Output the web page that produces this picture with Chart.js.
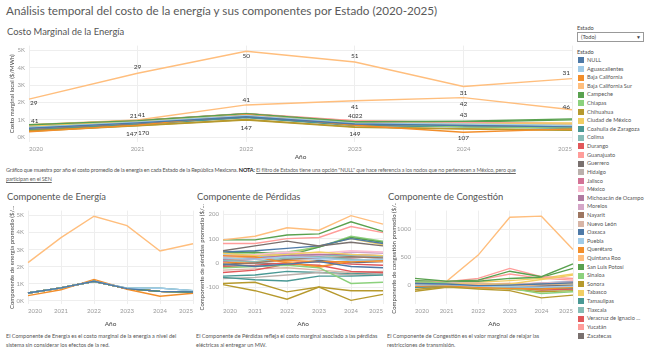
<!DOCTYPE html>
<html lang="es">
<head>
<meta charset="utf-8">
<script src="https://cdn.jsdelivr.net/npm/chart.js@4.4.1/dist/chart.umd.min.js"></script>
<style>
  body { margin: 0; width: 647px; height: 352px; background: #fff; position: relative; overflow: hidden; font-family: Lato, "Open Sans", sans-serif; color: #555; }
  .abs { position: absolute; white-space: nowrap; }
  canvas { position: absolute; }
  .titulo { left: 6px; top: 3px; font-size: 11.7px; color: #5a5a5a; }
  .sub { font-size: 9.4px; color: #555; }
  .desc { font-size: 5.5px; color: #555; line-height: 8.5px; }
  .desc b { color: #222; }
  .desc u { color: #666; }
  #leyenda { left: 578px; top: 56px; font-size: 5.6px; color: #555; }
  #leyenda div { height: 8.62px; line-height: 8.62px; position: relative; padding-left: 9px; }
  #leyenda span { position: absolute; left: 0; top: 1.3px; width: 6px; height: 6px; }
  .combo { left: 577px; top: 32px; width: 62px; height: 8px; border: 1px solid #999; font-size: 5.6px; line-height: 8px; padding-left: 3px; color: #444; }
</style>
</head>
<body>
<div class="abs titulo">Análisis temporal del costo de la energía y sus componentes por Estado (2020-2025)</div>
<div class="abs sub" style="left:7px; top:26px;">Costo Marginal de la Energía</div>
<canvas id="g_costo" width="575" height="125" style="left:0; top:38px;"></canvas>
<div class="abs desc" style="left:6px; top:166px; letter-spacing:-0.15px;">Gráfico que muestra por año el costo promedio de la energía en cada Estado de la República Mexicana. <b>NOTA:</b> <u>El filtro de Estados tiene una opción "NULL" que hace referencia a los nodos que no pertenecen a México, pero que</u><br><u>participan en el SEN</u></div>

<div class="abs sub" style="left:7px; top:191px;">Componente de Energía</div>
<div class="abs sub" style="left:197px; top:191px;">Componente de Pérdidas</div>
<div class="abs sub" style="left:388px; top:191px;">Componente de Congestión</div>
<canvas id="g_energia" width="196" height="127" style="left:0; top:203px;"></canvas>
<canvas id="g_perdidas" width="196" height="127" style="left:190px; top:203px;"></canvas>
<canvas id="g_congestion" width="194" height="127" style="left:382px; top:203px;"></canvas>
<div class="abs desc" style="left:6px; top:332px;">El Componente de Energía es el costo marginal de la energía a nivel del<br>sistema sin considerar los efectos de la red.</div>
<div class="abs desc" style="left:196px; top:332px;">El Componente de Pérdidas refleja el costo marginal asociado a las pérdidas<br>eléctricas al entregar un MW.</div>
<div class="abs desc" style="left:387px; top:332px;">El Componente de Congestión es el valor marginal de relajar las<br>restricciones de transmisión.</div>

<div class="abs" style="left:577px; top:24px; font-size:5.6px; color:#444;">Estado</div>
<div class="abs combo">(Todo)<span style="position:absolute; right:2px; top:0; font-size:5px;">▼</span></div>
<div class="abs" style="left:577px; top:48px; font-size:5.6px; color:#444;">Estado</div>
<div class="abs" id="leyenda"></div>

<script>
const anios = ["2020", "2021", "2022", "2023", "2024", "2025"];

const estados = [
  "NULL", "Aguascalientes", "Baja California", "Baja California Sur", "Campeche",
  "Chiapas", "Chihuahua", "Ciudad de México", "Coahuila de Zaragoza", "Colima",
  "Durango", "Guanajuato", "Guerrero", "Hidalgo", "Jalisco", "México",
  "Michoacán de Ocampo", "Morelos", "Nayarit", "Nuevo León", "Oaxaca", "Puebla",
  "Querétaro", "Quintana Roo", "San Luis Potosí", "Sinaloa", "Sonora", "Tabasco",
  "Tamaulipas", "Tlaxcala", "Veracruz de Ignacio ...", "Yucatán", "Zacatecas"
];

// costo marginal local promedio ($/MWh), una fila por estado
const costoMarginal = [
  [520, 830, 1180, 760, 680, 600],
  [560, 860, 1260, 800, 760, 680],
  [320, 700, 1300, 690, 290, 480],
  [2190, 3680, 4950, 4330, 2920, 3370],
  [720, 960, 1360, 900, 920, 1060],
  [560, 850, 1250, 820, 600, 560],
  [380, 680, 1020, 600, 500, 420],
  [640, 900, 1290, 810, 780, 760],
  [420, 740, 1130, 680, 600, 520],
  [550, 840, 1230, 820, 780, 660],
  [440, 760, 1160, 700, 620, 540],
  [650, 950, 1340, 940, 850, 760],
  [620, 910, 1300, 830, 740, 660],
  [560, 860, 1240, 790, 720, 640],
  [600, 880, 1280, 810, 760, 670],
  [610, 890, 1290, 820, 770, 690],
  [580, 870, 1260, 800, 740, 650],
  [600, 890, 1280, 820, 770, 690],
  [540, 830, 1230, 780, 720, 630],
  [480, 790, 1170, 730, 660, 580],
  [500, 810, 1180, 760, 700, 620],
  [570, 870, 1250, 800, 760, 660],
  [590, 880, 1270, 800, 740, 650],
  [720, 990, 1860, 2100, 2280, 1580],
  [700, 970, 1350, 880, 880, 1000],
  [600, 880, 1250, 780, 680, 600],
  [350, 660, 990, 580, 470, 400],
  [640, 900, 1280, 850, 820, 820],
  [460, 770, 1150, 720, 650, 560],
  [560, 860, 1250, 800, 760, 660],
  [520, 820, 1220, 780, 700, 610],
  [710, 970, 1370, 950, 860, 790],
  [540, 840, 1220, 770, 700, 620]
];

// componente de energía promedio ($/MWh)
const compEnergia = [
  [460, 760, 1150, 720, 560, 520],
  [460, 760, 1150, 740, 750, 600],
  [310, 650, 1260, 680, 270, 450],
  [2240, 3700, 4950, 4400, 2920, 3340],
  [460, 760, 1150, 720, 560, 520],
  [460, 760, 1150, 720, 560, 520],
  [460, 760, 1150, 720, 560, 520],
  [460, 760, 1150, 720, 560, 520],
  [460, 760, 1150, 720, 560, 520],
  [460, 760, 1150, 740, 750, 600],
  [460, 760, 1150, 720, 560, 520],
  [460, 760, 1150, 720, 560, 520],
  [460, 760, 1150, 720, 560, 520],
  [460, 760, 1150, 720, 560, 520],
  [460, 760, 1150, 720, 560, 520],
  [460, 760, 1150, 720, 560, 520],
  [460, 760, 1150, 720, 560, 520],
  [460, 760, 1150, 720, 560, 520],
  [460, 760, 1150, 720, 560, 520],
  [460, 760, 1150, 720, 560, 520],
  [460, 760, 1150, 720, 560, 520],
  [460, 760, 1150, 740, 750, 600],
  [460, 760, 1150, 720, 560, 520],
  [460, 760, 1150, 720, 560, 520],
  [460, 760, 1150, 720, 560, 520],
  [460, 760, 1150, 720, 560, 520],
  [460, 760, 1150, 720, 560, 520],
  [460, 760, 1150, 720, 560, 520],
  [460, 760, 1150, 720, 560, 520],
  [460, 760, 1150, 740, 750, 600],
  [460, 760, 1150, 720, 560, 520],
  [460, 760, 1150, 720, 560, 520],
  [460, 760, 1150, 720, 560, 520]
];

// componente de pérdidas promedio ($/MWh)
const compPerdidas = [
  [-5, -15, -5, 5, -15, -20],
  [20, 15, 25, 20, 10, 15],
  [30, 25, 0, -15, 5, 10],
  [95, 110, 145, 135, 195, 160],
  [95, 95, 115, 120, 170, 130],
  [-20, -15, -10, -20, -85, -80],
  [-90, -115, -150, -100, -155, -130],
  [40, 30, 35, 45, 35, 30],
  [-60, -70, -75, -55, -55, -50],
  [10, 5, 20, 25, 15, 10],
  [-40, -30, -5, -10, -35, -40],
  [80, 80, 100, 105, 150, 125],
  [50, 70, 90, 70, 85, 70],
  [-65, -60, -50, -40, -50, -45],
  [5, 15, 25, 20, 15, 10],
  [30, 35, 45, 40, 50, 45],
  [15, 20, 30, 35, 35, 30],
  [25, 30, 40, 30, 45, 40],
  [-10, 0, 15, 20, 25, 20],
  [-30, -25, -20, -30, -40, -35],
  [45, 50, 60, 70, 100, 80],
  [35, 30, 20, 15, 25, 20],
  [0, 5, 10, 5, 5, 10],
  [20, 25, 5, -20, 10, 5],
  [40, 45, 30, 65, 105, 85],
  [45, 40, 45, 65, 110, 90],
  [-85, -80, -120, -100, -115, -115],
  [10, 20, 35, 70, 100, 75],
  [-55, -50, -35, -40, -45, -40],
  [20, 25, 35, 30, 30, 25],
  [-15, -10, 0, 5, -5, -10],
  [25, 20, 30, 25, 20, 30],
  [-5, 0, -5, 10, 0, 5]
];

// componente de congestión promedio ($/MWh)
const compCongestion = [
  [30, 20, -10, 0, 20, 40],
  [0, 10, -20, -30, -40, -20],
  [-20, -10, -40, -60, -70, -40],
  [10, 20, 10, -20, 10, 30],
  [120, 70, 90, 250, 150, 380],
  [60, 40, -30, -60, -150, -120],
  [-80, -30, -70, -100, -230, -180],
  [20, 30, 10, 20, 100, 180],
  [-40, -20, -30, -50, -60, -50],
  [0, 10, 0, -10, 10, 20],
  [-30, -10, -20, -40, -90, -70],
  [40, 60, 120, 300, 150, 120],
  [10, 20, 0, -10, -20, 0],
  [20, 30, 20, 10, 30, 40],
  [-10, 0, 10, 20, 0, 10],
  [30, 40, 30, 20, 40, 50],
  [-20, -10, 0, -10, -30, -20],
  [10, 20, 30, 10, 20, 30],
  [-30, -20, -10, -20, -40, -30],
  [-50, -30, -40, -60, -70, -60],
  [50, 30, 20, 0, 40, 60],
  [10, 0, -10, 0, 20, 30],
  [0, 10, 20, 30, 10, 20],
  [20, 70, 540, 1220, 1240, 640],
  [80, 60, 70, 120, 140, 300],
  [-40, -20, -30, -60, -90, -80],
  [-110, -40, -50, -70, -120, -100],
  [60, 40, 50, 80, 120, 200],
  [-20, -10, -20, -40, -50, -40],
  [0, 10, 0, -10, 0, 10],
  [20, 10, 0, -20, -30, -20],
  [70, 60, 90, 200, 120, 90],
  [-10, 0, -10, -20, -10, 0]
];

// etiquetas de marca en la gráfica principal: [estado, índice de año, texto]
const etiquetas = [
  ["Baja California Sur", 0, "29"], ["Baja California Sur", 1, "29"], ["Baja California Sur", 2, "50"],
  ["Baja California Sur", 3, "51"], ["Baja California Sur", 4, "31"], ["Baja California Sur", 5, "31"],
  ["Quintana Roo", 0, "41"], ["Quintana Roo", 1, "41"], ["Quintana Roo", 2, "41"],
  ["Quintana Roo", 3, "41"], ["Quintana Roo", 4, "42"], ["Quintana Roo", 5, "46"],
  ["Campeche", 1, "21"], ["Campeche", 3, "40"], ["San Luis Potosí", 3, "22"], ["Campeche", 4, "43"],
  ["Sonora", 1, "147"], ["Chihuahua", 1, "170"], ["Sonora", 2, "147"], ["Sonora", 3, "149"],
  ["Baja California", 4, "107"]
];

const ticksCosto = [0, 1000, 2000, 3000, 4000, 5000];
const ticksPerdidas = [-100, 0, 100, 200];
const ticksCongestion = [0, 500, 1000];

const colores = ["#4e79a7", "#a0cbe8", "#f28e2b", "#ffbe7d", "#59a14f", "#8cd17d", "#b6992d", "#f1ce63",
  "#499894", "#86bcb6", "#e15759", "#ff9d9a", "#79706e", "#bab0ac", "#d37295", "#fabfd2",
  "#b07aa1", "#d4a6c8", "#9d7660", "#d7b5a6"];
const colorDe = i => colores[i % colores.length];

// leyenda
const ley = document.getElementById("leyenda");
estados.forEach((e, i) => {
  const d = document.createElement("div");
  d.innerHTML = '<span style="background:' + colorDe(i) + '"></span>' + e;
  ley.appendChild(d);
});

Chart.defaults.font.family = "Lato, 'Open Sans', sans-serif";
Chart.defaults.animation = false;

// desplazamientos de cada etiqueta [dx, dy]
const ajustes = [
  [1, 4], [0, -6], [0, 5], [0, -6], [0, 6], [-2, -6],
  [2, -4], [4, -5], [0, -5], [0, 6], [0, 6], [-2, -3],
  [-4, -5], [-3, -6], [4, -6], [0, -6],
  [-6, 8], [6, 7], [0, 8], [0, 7], [0, 6]
];

const pluginEtiquetas = {
  id: "etiquetas",
  afterDatasetsDraw(chart) {
    const { ctx, scales: { x, y } } = chart;
    ctx.save();
    ctx.font = "6.5px Lato";
    ctx.fillStyle = "#333";
    ctx.textBaseline = "middle";
    etiquetas.forEach(([estado, i, texto], k) => {
      const fila = costoMarginal[estados.indexOf(estado)];
      const [dx, dy] = ajustes[k];
      ctx.textAlign = i === 0 ? "left" : (i === anios.length - 1 ? "right" : "center");
      ctx.fillText(texto, x.getPixelForValue(i) + dx, y.getPixelForValue(fila[i]) + dy);
    });
    ctx.restore();
  }
};

function grafica(id, filas, cfg) {
  return new Chart(document.getElementById(id), {
    type: "line",
    data: {
      labels: anios,
      datasets: filas.map((fila, i) => ({
        label: estados[i],
        data: fila,
        borderColor: colorDe(i),
        backgroundColor: colorDe(i),
        borderWidth: 1.4,
        pointRadius: 0,
        tension: 0,
        fill: false,
      })),
    },
    options: {
      responsive: false,
      devicePixelRatio: 1,
      layout: { padding: { top: 2, right: 3, left: 0, bottom: 0 } },
      plugins: { legend: { display: false }, tooltip: { enabled: false } },
      scales: {
        x: {
          offset: false,
          grid: { color: "#eeeeee", drawTicks: false },
          border: { display: false },
          ticks: { font: { size: 6 }, color: "#999", maxRotation: 0, autoSkip: false, align: "inner", padding: 3 },
          title: { display: true, text: "Año", font: { size: 6.5 }, color: "#444", padding: { top: 0, bottom: 2 } },
          afterFit: s => { s.height = cfg.altoX; },
        },
        y: {
          min: cfg.min,
          max: cfg.max,
          grid: { color: "#eeeeee", drawTicks: false },
          border: { display: false },
          afterBuildTicks: s => { s.ticks = cfg.ticks.map(v => ({ value: v })); },
          ticks: { font: { size: 6 }, color: "#999", padding: 4, callback: cfg.fmt },
          title: { display: true, text: cfg.tituloY, font: { size: 6 }, color: "#444", padding: { top: 8, bottom: 0 } },
          afterFit: s => { s.width = cfg.anchoY; },
        },
      },
    },
    plugins: cfg.plugins || [],
  });
}

const fmtK = v => (v / 1000) + "K";

grafica("g_costo", costoMarginal, {
  min: -272, max: 5272, ticks: ticksCosto, fmt: fmtK, anchoY: 29, altoX: 21,
  tituloY: "Costo marginal local ($/MWh)", plugins: [pluginEtiquetas],
});
grafica("g_energia", compEnergia, {
  min: -180, max: 5280, ticks: ticksCosto, fmt: fmtK, anchoY: 28, altoX: 26,
  tituloY: "Componente de energía promedio ($/...",
});
grafica("g_perdidas", compPerdidas, {
  min: -170, max: 216, ticks: ticksPerdidas, fmt: v => v, anchoY: 33, altoX: 26,
  tituloY: "Componente de pérdidas promedio ($/...",
});
grafica("g_congestion", compCongestion, {
  min: -340, max: 1340, ticks: ticksCongestion, fmt: v => v, anchoY: 33, altoX: 26,
  tituloY: "Componente de congestión promedio ($/...",
});
</script>
</body>
</html>
